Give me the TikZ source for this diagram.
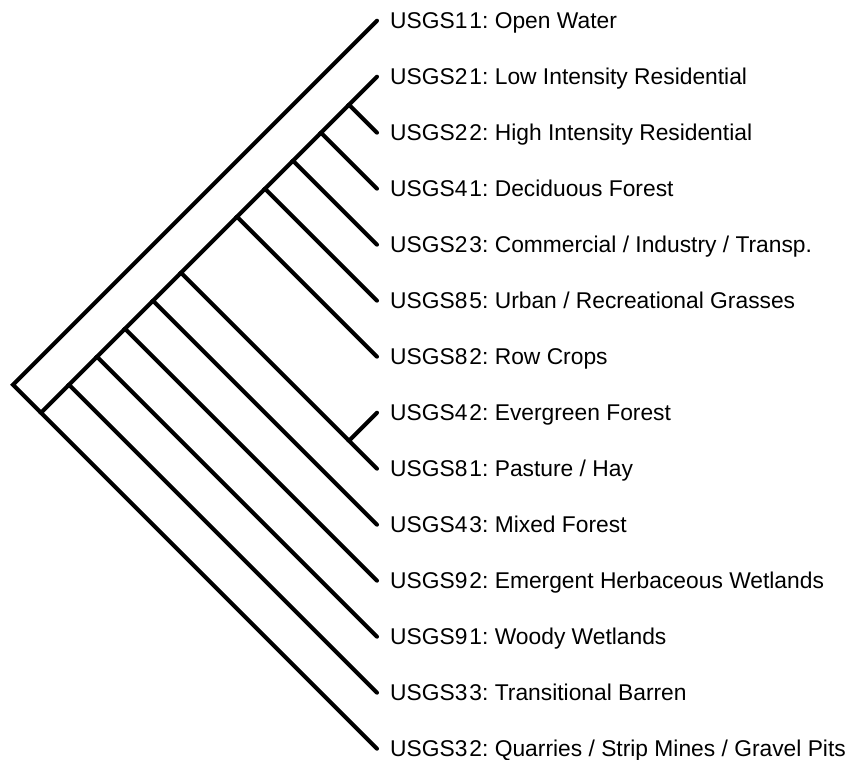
\documentclass[tikz,border=0pt]{standalone}
\usepackage{fontspec}
\setmainfont{Liberation Sans}
\frenchspacing
\newcommand{\usgs}[2]{USGS#1\kern2pt#2}
\begin{document}
\begin{tikzpicture}[x=1pt,y=-1pt,
        branch/.style={line width=4pt,line cap=round,line join=miter},
        lbl/.style={anchor=base west,inner sep=0pt,font=\fontsize{22.8}{26}\selectfont}]
        \useasboundingbox (0,0) rectangle (851,760);
        % leaf ends
        \coordinate (l1) at (377,20.7);
        \coordinate (l2) at (377,76.7);
        \coordinate (l3) at (377,132.7);
        \coordinate (l4) at (377,188.7);
        \coordinate (l5) at (377,244.7);
        \coordinate (l6) at (377,300.7);
        \coordinate (l7) at (377,356.7);
        \coordinate (l8) at (377,412.7);
        \coordinate (l9) at (377,468.7);
        \coordinate (l10) at (377,524.7);
        \coordinate (l11) at (377,580.7);
        \coordinate (l12) at (377,636.7);
        \coordinate (l13) at (377,692.7);
        \coordinate (l14) at (377,748.7);
        % joins
        \coordinate (n2to3) at (349,104.7);
        \coordinate (n2to4) at (321,132.7);
        \coordinate (n2to5) at (293,160.7);
        \coordinate (n2to6) at (265,188.7);
        \coordinate (n2to7) at (237,216.7);
        \coordinate (n8to9) at (349,440.7);
        \coordinate (n2to9) at (181,272.7);
        \coordinate (n2to10) at (153,300.7);
        \coordinate (n2to11) at (125,328.7);
        \coordinate (n2to12) at (97,356.7);
        \coordinate (n2to13) at (69,384.7);
        \coordinate (n2to14) at (41,412.7);
        \coordinate (root) at (13,384.7);
        % branches
        \draw[branch] (l1) -- (root) -- (n2to14);
        \draw[branch] (n2to13) -- (n2to14) -- (l14);
        \draw[branch] (n2to12) -- (n2to13) -- (l13);
        \draw[branch] (n2to11) -- (n2to12) -- (l12);
        \draw[branch] (n2to10) -- (n2to11) -- (l11);
        \draw[branch] (n2to9) -- (n2to10) -- (l10);
        \draw[branch] (n2to7) -- (n2to9) -- (n8to9);
        \draw[branch] (l8) -- (n8to9) -- (l9);
        \draw[branch] (n2to6) -- (n2to7) -- (l7);
        \draw[branch] (n2to5) -- (n2to6) -- (l6);
        \draw[branch] (n2to4) -- (n2to5) -- (l5);
        \draw[branch] (n2to3) -- (n2to4) -- (l4);
        \draw[branch] (l2) -- (n2to3) -- (l3);
        % labels
        \node[lbl] (t1) at (390,28.6) {\usgs11: Open Water};
        \node[lbl] (t2) at (390,84.6) {\usgs21: Low Intensity Residential};
        \node[lbl] (t3) at (390,140.6) {\usgs22: High Intensity Residential};
        \node[lbl] (t4) at (390,196.6) {\usgs41: Deciduous Forest};
        \node[lbl] (t5) at (390,252.6) {\usgs23: Commercial / Industry / Transp.};
        \node[lbl] (t6) at (390,308.6) {\usgs85: Urban / Recreational Grasses};
        \node[lbl] (t7) at (390,364.6) {\usgs82: Row Crops};
        \node[lbl] (t8) at (390,420.6) {\usgs42: Evergreen Forest};
        \node[lbl] (t9) at (390,476.6) {\usgs81: Pasture / Hay};
        \node[lbl] (t10) at (390,532.6) {\usgs43: Mixed Forest};
        \node[lbl] (t11) at (390,588.6) {\usgs92: Emergent Herbaceous Wetlands};
        \node[lbl] (t12) at (390,644.6) {\usgs91: Woody Wetlands};
        \node[lbl] (t13) at (390,700.6) {\usgs33: Transitional Barren};
        \node[lbl] (t14) at (390,756.6) {\usgs32: Quarries / Strip Mines / Gravel Pits};
    \end{tikzpicture}
\end{document}
